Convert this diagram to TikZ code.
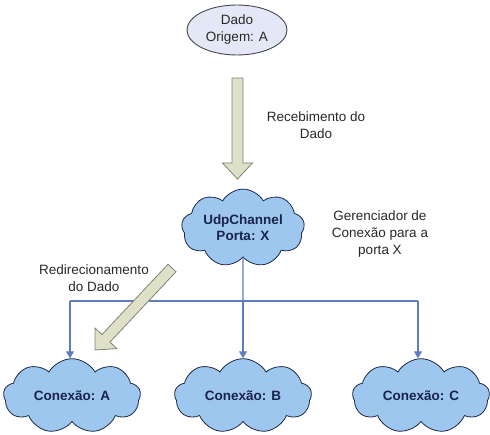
\documentclass[tikz,border=0pt]{standalone}
\usepackage{fontspec}
\setmainfont{Liberation Sans}
\usetikzlibrary{shapes.symbols,shapes.geometric,arrows.meta,calc}
\definecolor{cloudfill}{RGB}{158,199,240}
\definecolor{cloudline}{RGB}{30,40,70}
\definecolor{ellfill}{RGB}{228,232,246}
\definecolor{ellline}{RGB}{70,70,80}
\definecolor{bluelink}{RGB}{95,125,190}
\definecolor{bafill}{RGB}{222,224,200}
\definecolor{baline}{RGB}{130,130,115}
\definecolor{txt}{RGB}{40,40,40}
\definecolor{ctxt}{RGB}{25,35,75}
\newcommand{\blockarr}[2]{%
  \coordinate (bah) at ($(#2)!16pt!(#1)$);
  \draw[blockarrow] ($(#1)!5.5pt!90:(#2)$) -- ($(bah)!5.5pt!90:(#2)$) -- ($(bah)!15pt!90:(#2)$) -- (#2) -- ($(bah)!15pt!-90:(#2)$) -- ($(bah)!5.5pt!-90:(#2)$) -- ($(#1)!5.5pt!-90:(#2)$) -- cycle;}
\begin{document}
\begin{tikzpicture}[x=1pt,y=-1pt,
  every node/.style={font=\fontsize{13.5}{17}\selectfont, text=txt, align=center, inner sep=0pt},
  cloudbox/.style={cloud, cloud puffs=9, cloud puff arc=120, aspect=1.9, draw=cloudline, fill=cloudfill, line width=0.8pt, font=\fontsize{13.5}{16}\selectfont\bfseries, text=ctxt, minimum width=137pt, minimum height=71pt},
  ellbox/.style={ellipse, draw=ellline, fill=ellfill, line width=0.9pt, minimum width=100pt, minimum height=50pt},
  link/.style={draw=bluelink, line width=1.1pt},
  linkarrow/.style={link, -{Triangle[width=8pt,length=7pt]}},
  blockarrow/.style={draw=baline, fill=bafill, line width=0.8pt, line join=miter}
]
\useasboundingbox (0,0) rectangle (490,435);
\node[ellbox] (dado) at (237,30) {Dado\\Origem: A};
\node[cloudbox, minimum width=123pt] (udp) at (243,228) {UdpChannel\\Porta: X};
\node[cloudbox] (ca) at (72,396) {Conexão: A};
\node[cloudbox] (cb) at (243,396) {Conexão: B};
\node[cloudbox] (cc) at (421,396) {Conexão: C};
\node (lrec) at (316,125) {Recebimento do\\Dado};
\node (lger) at (380,234) {Gerenciador de\\Conexão para a\\porta X};
\node (lred) at (94,278) {Redirecionamento\\do Dado};
\coordinate (busm) at (243,301);
\coordinate (busl) at (70,301);
\coordinate (busr) at (418,301);
\draw[link] (udp.south) -- (busm);
\draw[link] (busl) -- (busr);
\draw[linkarrow] (busl) -- (busl |- ca.north);
\draw[linkarrow] (busm) -- (busm |- cb.north);
\draw[linkarrow] (busr) -- (busr |- cc.north);
\coordinate (r1) at (237.5,78);
\coordinate (r2) at (237.5,179);
\blockarr{r1}{r2}
\coordinate (d1) at (172,268);
\coordinate (d2) at (95,350);
\blockarr{d1}{d2}
\end{tikzpicture}
\end{document}
